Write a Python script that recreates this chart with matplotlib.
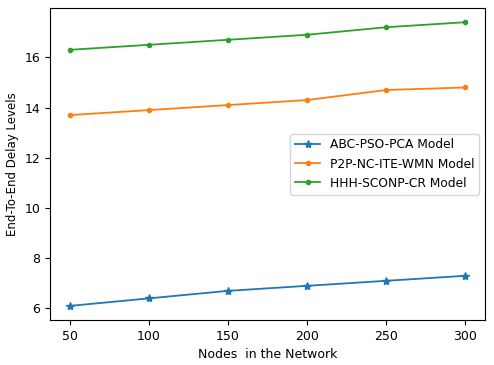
import numpy as np
import matplotlib.pyplot as plt

nodes = [50, 100, 150, 200, 250, 300]
abc = [6.1, 6.4, 6.7, 6.9, 7.1, 7.3]
p2p = [13.7, 13.9, 14.1, 14.3, 14.7, 14.8]
hhh = [16.3, 16.5, 16.7, 16.9, 17.2, 17.4]

fig = plt.figure(figsize=(4.94, 3.65), dpi=100)
ax = fig.add_axes([0.101, 0.123, 0.881, 0.855])
ax.plot(nodes, abc, marker="*", markersize=6, lw=1.3, label="ABC-PSO-PCA Model")
ax.plot(nodes, p2p, marker=".", markersize=6, lw=1.3, label="P2P-NC-ITE-WMN Model")
ax.plot(nodes, hhh, marker=".", markersize=6, lw=1.3, label="HHH-SCONP-CR Model")
ax.set_xlabel("Nodes  in the Network", fontsize=9)
ax.set_ylabel("End-To-End Delay Levels", fontsize=8.5)
ax.tick_params(labelsize=9)
ax.legend(loc="center right", fontsize=8.8)
fig.savefig("out.png", dpi=100)
